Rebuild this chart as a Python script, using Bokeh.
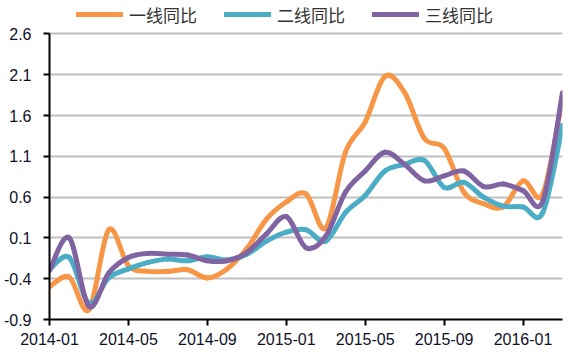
from bokeh.plotting import figure
from bokeh.models import (FixedTicker, Legend, LegendItem, ColumnDataSource,
                          NumeralTickFormatter, Range1d)
from bokeh.embed import file_html
from bokeh.resources import INLINE

months = ["2014-01", "2014-02", "2014-03", "2014-04", "2014-05", "2014-06", "2014-07",
          "2014-08", "2014-09", "2014-10", "2014-11", "2014-12", "2015-01", "2015-02",
          "2015-03", "2015-04", "2015-05", "2015-06", "2015-07", "2015-08", "2015-09",
          "2015-10", "2015-11", "2015-12", "2016-01", "2016-02", "2016-03"]

tier1 = [-0.50, -0.38, -0.78, 0.20, -0.24, -0.31, -0.31, -0.29, -0.39, -0.28, -0.03, 0.33,
         0.54, 0.64, 0.22, 1.15, 1.52, 2.08, 1.88, 1.32, 1.20, 0.66, 0.52, 0.48, 0.80, 0.64, 1.82]
tier2 = [-0.29, -0.14, -0.70, -0.39, -0.28, -0.20, -0.16, -0.18, -0.13, -0.17, -0.10, 0.06,
         0.17, 0.20, 0.06, 0.41, 0.62, 0.92, 1.00, 1.05, 0.72, 0.78, 0.60, 0.49, 0.48, 0.41, 1.48]
tier3 = [-0.30, 0.10, -0.74, -0.33, -0.14, -0.09, -0.10, -0.11, -0.18, -0.18, -0.08, 0.15,
         0.36, -0.02, 0.12, 0.66, 0.92, 1.15, 1.00, 0.80, 0.86, 0.92, 0.73, 0.76, 0.68, 0.55, 1.88]

series_names = ["一线同比", "二线同比", "三线同比"]
colors = ["#F79646", "#4BACC6", "#8064A2"]
y_ticks = [-0.9, -0.4, 0.1, 0.6, 1.1, 1.6, 2.1, 2.6]
x_tick_idx = [0, 4, 8, 12, 16, 20, 24]

# extra headroom above 2.6 holds the legend; the axis itself stops at 2.6
p = figure(width=570, height=360, output_backend="svg", toolbar_location=None,
           x_range=Range1d(0, len(months) - 1), y_range=Range1d(-0.9, 3.01))
p.min_border_left = 46
p.min_border_right = 8
p.min_border_top = 0
p.min_border_bottom = 41
p.outline_line_color = None
p.background_fill_color = "white"
p.border_fill_color = "white"

p.xgrid.grid_line_color = None
p.ygrid.grid_line_color = "#c0c0c0"
p.ygrid.grid_line_width = 2
p.ygrid.ticker = FixedTicker(ticks=y_ticks)

label_font = "Liberation Sans"
for ax in (p.xaxis[0], p.yaxis[0]):
    ax.axis_line_color = "black"
    ax.axis_line_width = 2
    ax.major_tick_line_color = "black"
    ax.major_tick_line_width = 2
    ax.major_tick_out = 6
    ax.major_tick_in = 0
    ax.minor_tick_line_color = None
    ax.major_label_text_font = label_font
    ax.major_label_text_font_size = "16px"
    ax.major_label_text_color = "#10102a"

p.yaxis[0].ticker = FixedTicker(ticks=y_ticks)
p.yaxis[0].formatter = NumeralTickFormatter(format="0.0")
p.yaxis[0].major_label_standoff = 12
p.yaxis[0].bounds = (-0.9, 2.6)
p.xaxis[0].ticker = FixedTicker(ticks=x_tick_idx)
p.xaxis[0].major_label_overrides = {i: months[i] for i in x_tick_idx}
p.xaxis[0].major_label_standoff = 7


def smooth_segments(ys):
    n = len(ys)
    xs = list(range(n))
    d = dict(x0=[], y0=[], x1=[], y1=[], cx0=[], cy0=[], cx1=[], cy1=[])
    for i in range(n - 1):
        xm = xs[i - 1] if i > 0 else xs[i]
        ym = ys[i - 1] if i > 0 else ys[i]
        xp = xs[i + 2] if i + 2 < n else xs[i + 1]
        yp = ys[i + 2] if i + 2 < n else ys[i + 1]
        d["x0"].append(xs[i]); d["y0"].append(ys[i])
        d["x1"].append(xs[i + 1]); d["y1"].append(ys[i + 1])
        d["cx0"].append(xs[i] + (xs[i + 1] - xm) / 6.0)
        d["cy0"].append(ys[i] + (ys[i + 1] - ym) / 6.0)
        d["cx1"].append(xs[i + 1] - (xp - xs[i]) / 6.0)
        d["cy1"].append(ys[i + 1] - (yp - ys[i]) / 6.0)
    return ColumnDataSource(d)


items = []
for name, ys, col in zip(series_names, [tier1, tier2, tier3], colors):
    r = p.bezier(x0="x0", y0="y0", x1="x1", y1="y1", cx0="cx0", cy0="cy0",
                 cx1="cx1", cy1="cy1", source=smooth_segments(ys),
                 line_color=col, line_width=5, line_cap="round")
    items.append(LegendItem(label=name, renderers=[r]))

legend = Legend(items=items, orientation="horizontal", location=(27, 292))
legend.border_line_color = None
legend.background_fill_alpha = 0
legend.padding = 0
legend.margin = 0
legend.spacing = 27
legend.glyph_width = 47
legend.glyph_height = 26
legend.label_height = 26
legend.label_standoff = 6
legend.label_text_font = "Noto Sans CJK SC"
legend.label_text_font_size = "17px"
legend.label_text_color = "#333333"
p.add_layout(legend, "center")

open("out.html", "w").write(file_html(p, INLINE))
